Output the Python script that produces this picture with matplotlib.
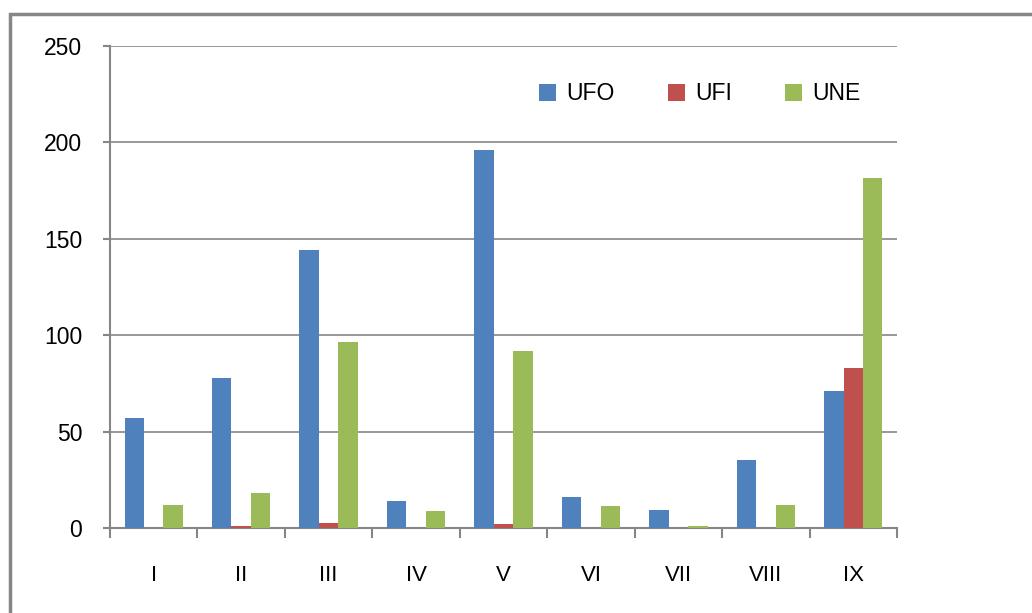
import numpy as np
import matplotlib.pyplot as plt
from matplotlib.patches import Rectangle

categories = ["I", "II", "III", "IV", "V", "VI", "VII", "VIII", "IX"]
ufo = [57, 78, 144, 14, 196, 16, 9.5, 35, 71]
ufi = [0, 1, 2.6, 0, 2.2, 0, 0, 0, 83]
une = [12, 18, 96.5, 9, 92, 11.5, 1, 12, 181.5]

plt.rcParams['font.family'] = ['Liberation Sans', 'DejaVu Sans']

fig = plt.figure(figsize=(10.32, 6.13), dpi=100)
ax = fig.add_axes([0.1066, 0.1387, 0.7626, 0.7863])

# outer chart border (runs off the right and bottom edges)
fig.patches.append(Rectangle((10 / 1032, -0.1), 1.2, 1 - 14 / 613 + 0.1,
                             transform=fig.transFigure, fill=False,
                             edgecolor='#868686', linewidth=2.5))

x = np.arange(len(categories))
w = 1 / 4.5
ax.bar(x - w, ufo, w, color='#4F81BD', label='UFO', zorder=3)
ax.bar(x, ufi, w, color='#C0504D', label='UFI', zorder=3)
ax.bar(x + w, une, w, color='#9BBB59', label='UNE', zorder=3)

ax.set_xlim(-0.5, len(categories) - 0.5)
ax.set_ylim(0, 250)
ax.set_yticks(range(0, 251, 50))
ax.yaxis.grid(True, color='#868686', linewidth=1.2, zorder=0)

# category boundary ticks on the x axis
ax.set_xticks(np.arange(-0.5, len(categories)), minor=False)
ax.set_xticklabels([])
ax.set_xticks(x, minor=True)
ax.set_xticklabels(categories, minor=True)
ax.tick_params(axis='x', which='major', length=7, width=1.5, color='#868686', direction='out')
ax.tick_params(axis='x', which='minor', length=0, pad=27, labelsize=16)
ax.tick_params(axis='y', length=5, width=1.5, color='#868686', pad=15, labelsize=16.5)

for side in ['top', 'right']:
    ax.spines[side].set_visible(False)
for side in ['left', 'bottom']:
    ax.spines[side].set_color('#868686')
    ax.spines[side].set_linewidth(1.5)

ax.legend(loc='center', bbox_to_anchor=(0.678, 0.847), bbox_transform=fig.transFigure,
          ncol=3, frameon=False, fontsize=16.5, handlelength=0.75, handleheight=0.75,
          handletextpad=0.45, columnspacing=2.3)

plt.savefig("out.png", dpi=100)
